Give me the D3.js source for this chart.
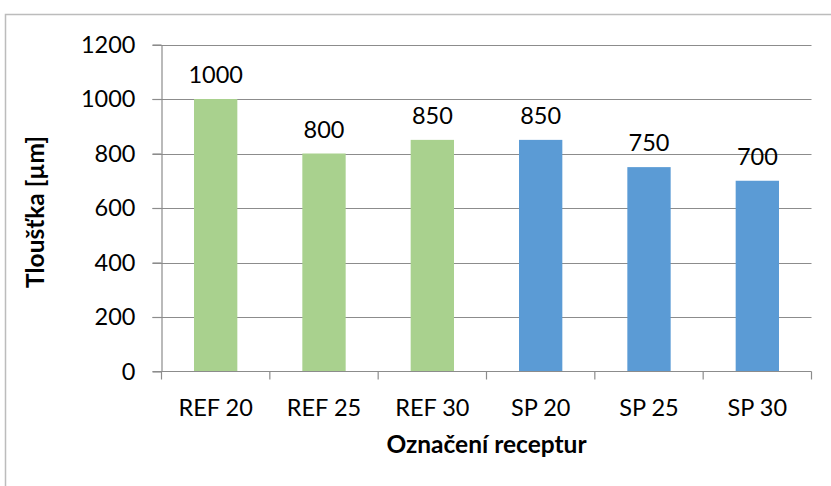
<!DOCTYPE html>
<html>
<head>
<meta charset="utf-8">
<script src="https://cdn.jsdelivr.net/npm/d3@7"></script>
<style>
	body { margin: 0; background: #fff; }
	svg { display: block; font-family: Lato, 'Liberation Sans', sans-serif; }
</style>
</head>
<body>
<script>
const w = 831;
const h = 486;

const categories = ['REF 20', 'REF 25', 'REF 30', 'SP 20', 'SP 25', 'SP 30'];
const values = [1000, 800, 850, 850, 750, 700];
const barColors = ['#a9d18e', '#a9d18e', '#a9d18e', '#5b9bd5', '#5b9bd5', '#5b9bd5'];
const yTicks = [0, 200, 400, 600, 800, 1000, 1200];

const plotLeft = 161.5;
const plotRight = 811.5;
const plotTop = 44.5;
const plotBottom = 371.5;

const svg = d3.select('body').append('svg')
	.attr('width', w)
	.attr('height', h);

// chart border (only top and left fall inside the picture)
svg.append('rect')
	.attr('x', 5.5)
	.attr('y', 14.5)
	.attr('width', 900)
	.attr('height', 600)
	.attr('fill', 'none')
	.attr('stroke', '#bcbcbc')
	.attr('stroke-width', 1.5);

const x = d3.scaleBand()
	.domain(categories)
	.range([plotLeft, plotRight])
	.paddingInner(0.6)
	.paddingOuter(0.3);

const y = d3.scaleLinear()
	.domain([0, 1200])
	.range([plotBottom, plotTop]);

// gridlines
svg.append('g')
	.selectAll('line')
	.data(yTicks.filter(d => d > 0))
	.enter()
	.append('line')
	.attr('x1', plotLeft - 9)
	.attr('x2', plotRight)
	.attr('y1', d => Math.round(y(d)) + 0.5)
	.attr('y2', d => Math.round(y(d)) + 0.5)
	.attr('stroke', '#8c8c8c')
	.attr('stroke-width', 1.2);

// bars
svg.append('g')
	.selectAll('rect')
	.data(values)
	.enter()
	.append('rect')
	.attr('x', (d, i) => x(categories[i]))
	.attr('y', d => y(d))
	.attr('width', x.bandwidth())
	.attr('height', d => plotBottom - y(d))
	.attr('fill', (d, i) => barColors[i]);

// value labels
svg.append('g')
	.selectAll('text')
	.data(values)
	.enter()
	.append('text')
	.attr('x', (d, i) => x(categories[i]) + x.bandwidth() / 2)
	.attr('y', d => y(d) - 16)
	.attr('text-anchor', 'middle')
	.attr('font-size', 23.5)
	.attr('fill', '#000')
	.text(d => d);

// y axis
const yAxis = d3.axisLeft(y)
	.tickValues(yTicks)
	.tickFormat(d3.format('d'))
	.tickSize(9)
	.tickPadding(17)
	.tickSizeOuter(0);

const gy = svg.append('g')
	.attr('transform', `translate(${plotLeft},0)`)
	.call(yAxis);
gy.select('.domain').attr('stroke', '#8c8c8c').attr('stroke-width', 1.2);
gy.selectAll('.tick line').attr('stroke', '#8c8c8c').attr('stroke-width', 1.2);
gy.selectAll('.tick text')
	.attr('font-size', 23.5)
	.attr('font-family', "Lato, 'Liberation Sans', sans-serif")
	.attr('fill', '#000');

// x axis baseline and category boundary ticks
const boundaries = categories.map(c => x(c) - x.step() * x.paddingInner() / 2).concat([plotRight]);
svg.append('line')
	.attr('x1', plotLeft - 9)
	.attr('x2', plotRight)
	.attr('y1', plotBottom)
	.attr('y2', plotBottom)
	.attr('stroke', '#8c8c8c')
	.attr('stroke-width', 1.2);
svg.append('g')
	.selectAll('line')
	.data(boundaries)
	.enter()
	.append('line')
	.attr('x1', d => d)
	.attr('x2', d => d)
	.attr('y1', plotBottom)
	.attr('y2', plotBottom + 8)
	.attr('stroke', '#8c8c8c')
	.attr('stroke-width', 1.2);

svg.append('g')
	.selectAll('text')
	.data(categories)
	.enter()
	.append('text')
	.attr('x', d => x(d) + x.bandwidth() / 2)
	.attr('y', 416)
	.attr('text-anchor', 'middle')
	.attr('font-size', 23.5)
	.attr('fill', '#000')
	.text(d => d);

// axis titles
svg.append('text')
	.attr('x', (plotLeft + plotRight) / 2)
	.attr('y', 453)
	.attr('text-anchor', 'middle')
	.attr('font-size', 24.5)
	.attr('font-weight', 'bold')
	.attr('fill', '#000')
	.text('Označení receptur');

svg.append('text')
	.attr('transform', `translate(44,${(plotTop + plotBottom) / 2 + 4}) rotate(-90)`)
	.attr('text-anchor', 'middle')
	.attr('font-size', 24.5)
	.attr('font-weight', 'bold')
	.attr('fill', '#000')
	.text('Tloušťka [µm]');
</script>
</body>
</html>
